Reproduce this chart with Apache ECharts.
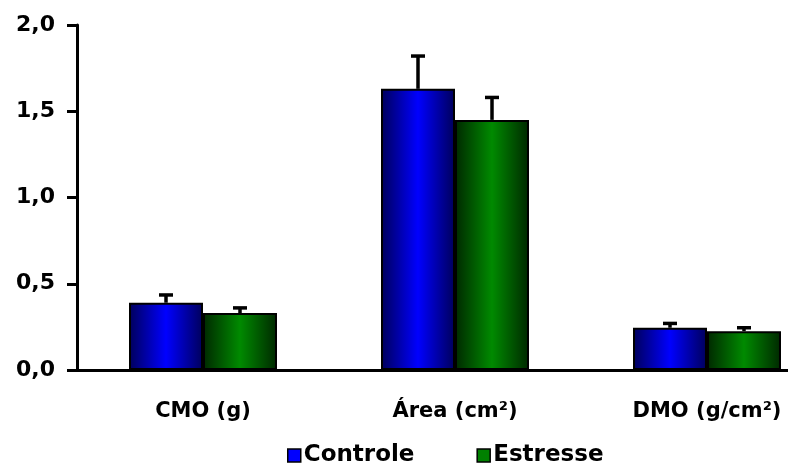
<!DOCTYPE html>
<html><head><meta charset="utf-8">
<script src="https://cdn.jsdelivr.net/npm/echarts@6/dist/echarts.min.js"></script>
<style>html,body{margin:0;padding:0;background:#fff}#c{width:788px;height:468px}</style>
</head><body><div id="c"></div>
<script>
var categories = ['CMO (g)', 'Área (cm²)', 'DMO (g/cm²)'];
var controleMean = [0.39, 1.63, 0.245];
var controleErr = [0.045, 0.19, 0.025];
var estresseMean = [0.33, 1.45, 0.225];
var estresseErr = [0.03, 0.13, 0.02];
var yTicks = [0, 0.5, 1.0, 1.5, 2.0];

var BAR_W = 74;
var FONT = '"DejaVu Sans", "Liberation Sans", Arial, sans-serif';

function grad(edge, mid) {
  return new echarts.graphic.LinearGradient(0, 0, 1, 0, [
    {offset: 0, color: edge}, {offset: 0.5, color: mid}, {offset: 1, color: edge}
  ]);
}

function errSeries(means, errs, offset) {
  return {
    type: 'custom',
    silent: true,
    z: 5,
    data: means.map(function (m, i) { return [i, m, m + errs[i]]; }),
    renderItem: function (params, api) {
      var lo = api.coord([api.value(0), api.value(1)]);
      var hi = api.coord([api.value(0), api.value(2)]);
      var x = lo[0] + offset;
      var cap = 7;
      return {
        type: 'group',
        children: [
          {type: 'line', shape: {x1: x, y1: lo[1], x2: x, y2: hi[1]}, style: {stroke: '#000', lineWidth: 3.5}},
          {type: 'line', shape: {x1: x - cap, y1: hi[1], x2: x + cap, y2: hi[1]}, style: {stroke: '#000', lineWidth: 3.5}}
        ]
      };
    }
  };
}

var chart = echarts.init(document.getElementById('c'));
chart.setOption({
  animation: false,
  backgroundColor: '#fff',
  grid: {left: 77, top: 25, width: 756, height: 345, outerBoundsMode: 'none', containLabel: false},
  legend: {
    top: 439, left: 282,
    itemWidth: 13, itemHeight: 13, itemGap: 62,
    textStyle: {fontFamily: FONT, fontWeight: 'bold', fontSize: 23, color: '#000', padding: [0, 0, 0, -2]},
    data: [
      {name: 'Controle', icon: 'rect', itemStyle: {color: '#0000ff', borderColor: '#000', borderWidth: 1.5}},
      {name: 'Estresse', icon: 'rect', itemStyle: {color: '#008000', borderColor: '#000', borderWidth: 1.5}}
    ]
  },
  xAxis: {
    type: 'category',
    data: categories,
    axisLine: {lineStyle: {color: '#000', width: 3}},
    axisTick: {show: false},
    axisLabel: {margin: 31, fontFamily: FONT, fontWeight: 'bold', fontSize: 21, color: '#000'}
  },
  yAxis: {
    type: 'value', min: 0, max: 2, interval: 0.5,
    splitLine: {show: false},
    axisLine: {show: true, lineStyle: {color: '#000', width: 3}},
    axisTick: {show: true, length: 10, lineStyle: {color: '#000', width: 3}},
    axisLabel: {margin: 22, fontFamily: FONT, fontWeight: 'bold', fontSize: 22, color: '#000',
      formatter: function (v) { return v.toFixed(1).replace('.', ','); }}
  },
  series: [
    {name: 'Controle', type: 'bar', barWidth: BAR_W, barGap: '0%', data: controleMean,
     itemStyle: {color: grad('#00005a', '#0000ff'), borderColor: '#000', borderWidth: 2}},
    {name: 'Estresse', type: 'bar', barWidth: BAR_W, barGap: '0%', data: estresseMean,
     itemStyle: {color: grad('#002800', '#008a00'), borderColor: '#000', borderWidth: 2}},
    errSeries(controleMean, controleErr, -BAR_W / 2),
    errSeries(estresseMean, estresseErr, BAR_W / 2)
  ]
});
</script></body></html>
